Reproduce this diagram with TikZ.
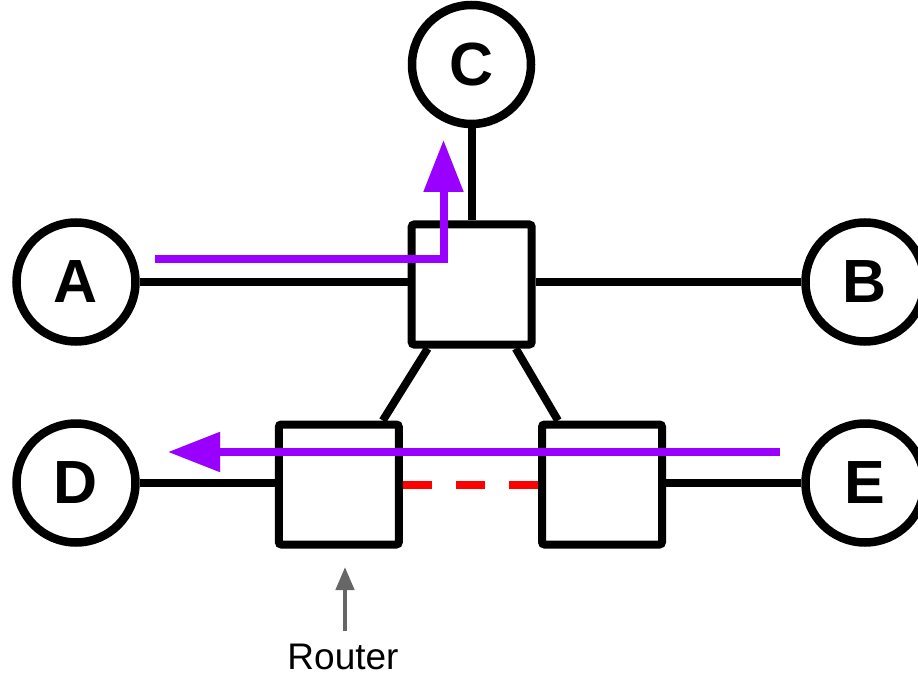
\documentclass[tikz,border=0pt]{standalone}
\usepackage{fontspec}
\setmainfont{Liberation Sans}
\usetikzlibrary{arrows.meta}
\definecolor{pathpurple}{HTML}{9900FF}
\definecolor{dashred}{HTML}{FF0000}
\definecolor{routergray}{HTML}{666666}
\begin{document}
\begin{tikzpicture}[x=1pt,y=-1pt,
  hostnode/.style={circle,draw=black,line width=8.5pt,minimum size=119pt,inner sep=0pt,fill=white,
    font=\fontsize{61}{61}\selectfont\bfseries},
  routerbox/.style={rectangle,draw=black,line width=8pt,minimum width=120pt,minimum height=120pt,
    inner sep=0pt,rounded corners=2.5pt,fill=white},
  link/.style={line width=8pt,black},
  flow/.style={line width=8pt,pathpurple,-{Triangle[length=52pt,width=38pt]}},
  flowshadow/.style={line width=8pt,black,opacity=0.3,-{Triangle[length=52pt,width=38pt]}},
]
\useasboundingbox (0,0) rectangle (918,676);
\node[routerbox] (T) at (471.7,284.5) {};
\node[routerbox] (L) at (338.8,484.5) {};
\node[routerbox] (R) at (602,484.5) {};
\node[hostnode] (C) at (471.5,64.5) {C};
\node[hostnode] (A) at (76,282) {A};
\node[hostnode] (B) at (865,282) {B};
\node[hostnode] (D) at (76,483) {D};
\node[hostnode] (E) at (865,483) {E};
\draw[link] (A.east) -- (A.east -| T.west);
\draw[link] (B.west -| T.east) -- (B.west);
\draw[link] (C.south) -- (C.south |- T.north);
\draw[link] ([xshift=20pt]T.south west) -- ([xshift=-20pt]L.north east);
\draw[link] ([xshift=-20pt]T.south east) -- ([xshift=20pt]R.north west);
\draw[link] (D.east) -- (D.east -| L.west);
\draw[link] (E.west -| R.east) -- (E.west);
\draw[line width=8pt,dashred,dash pattern=on 29pt off 24pt] (L.east) -- (R.west);
% flows
\coordinate (f1s) at (155,259.5);
\coordinate (f1t) at (443.5,140);
\coordinate (f2s) at (780,452);
\coordinate (f2t) at (168,452);
\begin{scope}[shift={(3,4)}]
\draw[flowshadow] (f1s) -| (f1t);
\draw[flowshadow] (f2s) -- (f2t);
\end{scope}
\draw[flow] (f1s) -| (f1t);
\draw[flow] (f2s) -- (f2t);
% router label
\node[font=\fontsize{37}{37}\selectfont,anchor=base,inner sep=0pt] (lab) at (343,669) {Router};
\coordinate (ra) at (345,567);
\coordinate (rb) at (345,631);
\draw[line width=4.5pt,routergray,-{Triangle[length=23pt,width=18pt]}] (rb) -- (ra);
\end{tikzpicture}
\end{document}
